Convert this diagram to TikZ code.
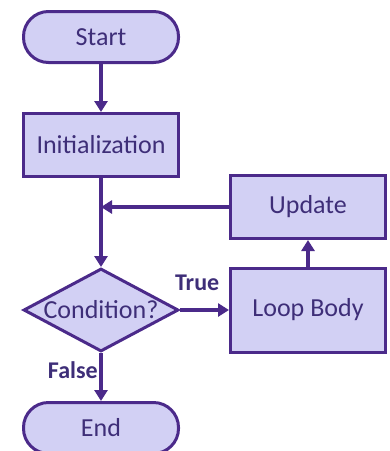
\documentclass[tikz,border=0pt]{standalone}
\usepackage{fontspec}
\setmainfont{Carlito}
\usetikzlibrary{arrows.meta,shapes.geometric,positioning}
\definecolor{flowLine}{HTML}{4B2A8A}
\definecolor{flowFill}{HTML}{D2D0F4}
\definecolor{flowText}{HTML}{3E2E78}

\begin{document}
\begin{tikzpicture}[x=1pt,y=-1pt,->,>={Triangle[length=11pt,width=13pt]},
		line width=4pt,flowLine,
		every node/.style={font=\fontsize{26}{30}\selectfont,text=flowText},
		terminal/.style={draw,fill=flowFill,rounded corners=25pt,minimum width=155pt,minimum height=51pt,line width=3pt},
		process/.style={draw,fill=flowFill,minimum width=155pt,minimum height=63pt,line width=3pt},
		decision/.style={draw,fill=flowFill,diamond,inner sep=0pt,minimum width=155pt,minimum height=83pt,line width=3pt},
		branch/.style={font=\fontsize{24}{28}\selectfont\bfseries}]
	\useasboundingbox (0,0) rectangle (390,451);
	\node[terminal] (start) at (101, 37) {Start};
	\node[process] (init) at (101, 145) {Initialization};
	\node[decision, label={center:Condition?}] (cond) at (101, 310) {};
	\node[process, minimum height=84pt] (body) at (308, 310) {Loop Body};
	\node[process] (upd) at (308, 207) {Update};
	\node[terminal] (end) at (101, 428) {End};
	\coordinate (join) at (101, 207);
	
	\draw (start) -- (init);
	\draw (init) -- (cond);
	\draw (upd) -- (join);
	\draw (body) -- (upd);
	\path (cond) edge node[branch, above, pos=0.35, yshift=14pt] {True} (body);
	\path (cond) edge node[branch, left, pos=0.35, xshift=2pt] {False} (end);
\end{tikzpicture}
\end{document}
